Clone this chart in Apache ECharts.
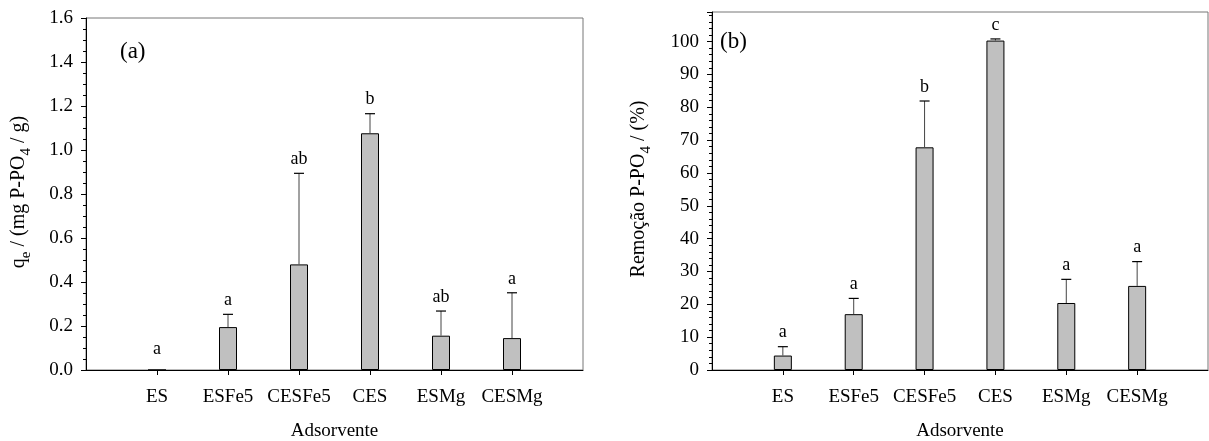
<!DOCTYPE html>
<html>
<head>
<meta charset="utf-8">
<script src="https://cdn.jsdelivr.net/npm/echarts@6/dist/echarts.min.js"></script>
<style>html,body{margin:0;padding:0;background:#fff}#c{width:1209px;height:441px}</style>
</head>
<body>
<div id="c"></div>
<script>
const categories = ['ES', 'ESFe5', 'CESFe5', 'CES', 'ESMg', 'CESMg'];
// Panel (a): q_e (mg P-PO4 / g)
const qeMean = [0, 0.195, 0.48, 1.076, 0.156, 0.145];
const qeErr  = [0, 0.058, 0.414, 0.089, 0.112, 0.206];
const qeLetters = ['a', 'a', 'ab', 'b', 'ab', 'a'];
const qeTicks = { min: 0, max: 1.6, interval: 0.2 };
// Panel (b): Remoção P-PO4 (%)
const remMean = [4.4, 17.0, 67.8, 100.3, 20.4, 25.6];
const remErr  = [2.7, 4.8, 14.1, 0.5, 7.2, 7.4];
const remLetters = ['a', 'a', 'b', 'c', 'a', 'a'];
const remTicks = { min: 0, max: 109, interval: 10 };

const FONT = 'Liberation Serif';
const FS = 19;
const axisCats = [''].concat(categories, ['']);
const n = categories.length;

function xAxis(gi) {
  return {
    type: 'category', gridIndex: gi, data: axisCats, boundaryGap: false,
    axisLine: { lineStyle: { color: '#000', width: 1 } },
    axisTick: { show: true, inside: false, length: 5, interval: (i) => i > 0 && i <= n, lineStyle: { color: '#000' } },
    axisLabel: { interval: 0, margin: 18, color: '#000', fontFamily: FONT, fontSize: FS },
    name: 'Adsorvente', nameLocation: 'middle', nameGap: 52,
    nameTextStyle: { color: '#000', fontFamily: FONT, fontSize: FS },
    splitLine: { show: false }
  };
}
function yAxis(gi, t, fmt, minorSplit) {
  return {
    type: 'value', gridIndex: gi, min: t.min, max: t.max, interval: t.interval,
    axisLine: { show: true, lineStyle: { color: '#000', width: 1 } },
    axisTick: { show: true, inside: false, length: 5, lineStyle: { color: '#000' } },
    minorTick: { show: true, splitNumber: minorSplit, length: 3, lineStyle: { color: '#000' } },
    axisLabel: { margin: 13, color: '#000', fontFamily: FONT, fontSize: FS,
      showMaxLabel: t.max % t.interval === 0, formatter: fmt },
    splitLine: { show: false }
  };
}
function barData(vals) { return [null].concat(vals, [null]); }
function errSeries(gi, means, errs, letters) {
  return {
    type: 'custom', xAxisIndex: gi, yAxisIndex: gi, z: 5,
    data: means.map((m, i) => [i + 1, m, errs[i], i]),
    renderItem: function (params, api) {
      const x = api.value(0), m = api.value(1), e = api.value(2), idx = api.value(3);
      const p0 = api.coord([x, m]);
      const p1 = api.coord([x, m + e]);
      const children = [];
      if (e > 0) {
        children.push({ type: 'line', shape: { x1: p0[0], y1: p0[1], x2: p1[0], y2: p1[1] }, style: { stroke: '#444', lineWidth: 1 } });
        children.push({ type: 'line', shape: { x1: p1[0] - 5, y1: p1[1], x2: p1[0] + 5, y2: p1[1] }, style: { stroke: '#000', lineWidth: 1.2 } });
      }
      children.push({ type: 'text', x: p1[0], y: p1[1] - (e > 0 ? 5 : 12),
        style: { text: letters[idx], fill: '#000', font: '18px "' + FONT + '"', align: 'center', verticalAlign: 'bottom' } });
      return { type: 'group', children: children };
    }
  };
}
function barSeries(gi, vals) {
  return {
    type: 'bar', xAxisIndex: gi, yAxisIndex: gi, data: barData(vals), barWidth: 18,
    itemStyle: { color: '#c0c0c0', borderColor: '#000', borderWidth: 1 }, z: 3
  };
}

const richBase = {
  n: { fontFamily: FONT, fontSize: 20, lineHeight: 22, verticalAlign: 'top', fill: '#000', color: '#000' },
  s: { fontFamily: FONT, fontSize: 15, lineHeight: 15, padding: [10, 0, 0, 0], verticalAlign: 'top', fill: '#000', color: '#000' }
};

const chart = echarts.init(document.getElementById('c'));
chart.setOption({
  animation: false,
  backgroundColor: '#fff',
  grid: [
    { left: 86, top: 18, width: 497, height: 352, show: true, borderColor: '#777', borderWidth: 1, containLabel: false, outerBoundsMode: 'none' },
    { left: 712, top: 12, width: 496, height: 358, show: true, borderColor: '#777', borderWidth: 1, containLabel: false, outerBoundsMode: 'none' }
  ],
  xAxis: [xAxis(0), xAxis(1)],
  yAxis: [
    yAxis(0, qeTicks, (v) => v.toFixed(1), 4),
    yAxis(1, remTicks, (v) => (v % 10 === 0 ? String(v) : ''), 5)
  ],
  series: [
    barSeries(0, qeMean), errSeries(0, qeMean, qeErr, qeLetters),
    barSeries(1, remMean), errSeries(1, remMean, remErr, remLetters)
  ],
  graphic: [
    { type: 'text', x: 120, y: 52, style: { text: '(a)', font: '23px "' + FONT + '"', fill: '#000', verticalAlign: 'middle' } },
    { type: 'text', x: 720, y: 42, style: { text: '(b)', font: '23px "' + FONT + '"', fill: '#000', verticalAlign: 'middle' } },
    { type: 'text', x: 20, y: 192, rotation: Math.PI / 2,
      style: { text: '{n|q}{s|e}{n| / (mg P-PO}{s|4}{n| / g)}', rich: richBase, align: 'center', verticalAlign: 'middle', fill: '#000' } },
    { type: 'text', x: 640, y: 189, rotation: Math.PI / 2,
      style: { text: '{n|Remoção P-PO}{s|4}{n| / (%)}', rich: richBase, align: 'center', verticalAlign: 'middle', fill: '#000' } }
  ]
});
</script>
</body>
</html>
